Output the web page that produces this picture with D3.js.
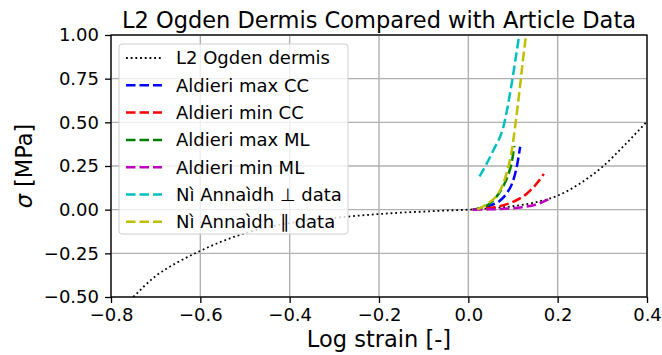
<!DOCTYPE html>
<html><head><meta charset="utf-8">
<script src="https://cdn.jsdelivr.net/npm/d3@7"></script>
<style>body{margin:0;background:#fff}svg{font-family:"DejaVu Sans",sans-serif}</style>
</head><body><svg id="c" width="662" height="355"></svg>
<script>
const xTicks = [-0.8,-0.6,-0.4,-0.2,0.0,0.2,0.4];
const yTicks = [-0.5,-0.25,0,0.25,0.5,0.75,1.0];
const ogdenX = [-0.75,-0.70,-0.65,-0.60,-0.55,-0.50,-0.45,-0.40,-0.35,-0.30,-0.25,-0.20,-0.15,-0.10,-0.05,0.00,0.05,0.10,0.15,0.20,0.25,0.30,0.35,0.40];
const ogdenY = [-0.50,-0.38,-0.30,-0.236,-0.18,-0.135,-0.10,-0.077,-0.06,-0.047,-0.035,-0.025,-0.017,-0.011,-0.005,0.0,0.008,0.02,0.042,0.08,0.15,0.245,0.37,0.505];
const maxCCX = [0.01,0.03,0.05,0.07,0.085,0.098,0.108,0.116];
const maxCCY = [0,0.008,0.025,0.05,0.09,0.15,0.24,0.36];
const minCCX = [0.01,0.04,0.07,0.10,0.13,0.15,0.169];
const minCCY = [0,0.008,0.02,0.045,0.09,0.14,0.205];
const maxMLX = [0.01,0.03,0.045,0.06,0.075,0.088,0.097,0.103];
const maxMLY = [0,0.012,0.03,0.065,0.12,0.19,0.27,0.365];
const minMLX = [0.01,0.05,0.09,0.12,0.15,0.18];
const minMLY = [0,0.002,0.006,0.014,0.028,0.06];
const perpX = [0.025,0.055,0.08,0.095,0.105,0.115];
const perpY = [0.19,0.335,0.49,0.69,0.85,1.02];
const parX = [0.02,0.04,0.06,0.075,0.088,0.098,0.106,0.115,0.122,0.13];
const parY = [0,0.03,0.07,0.13,0.23,0.35,0.5,0.69,0.85,1.02];
const labels = ["L2 Ogden dermis","Aldieri max CC","Aldieri min CC","Aldieri max ML","Aldieri min ML","Nì Annaìdh ⊥ data","Nì Annaìdh ∥ data"];
const colors = ["#000000","#0000ff","#ff0000","#008000","#bf00bf","#00bfbf","#bfbf00"];

const series = [[ogdenX,ogdenY],[maxCCX,maxCCY],[minCCX,minCCY],[maxMLX,maxMLY],[minMLX,minMLY],[perpX,perpY],[parX,parY]];

const L=111,R=647,T=35,B=297;
const svg=d3.select("#c");
const x=d3.scaleLinear().domain([-0.8,0.4]).range([L,R]);
const y=d3.scaleLinear().domain([-0.5,1.0]).range([B,T]);
const minus=s=>s.replace("-","\u2212");
const sw=i=>i==0?1.8:2.5, sd=i=>i==0?"1.8,2.9":"9.5,4";

// grid
svg.append("g").selectAll("line").data(xTicks).join("line")
 .attr("x1",d=>x(d)).attr("x2",d=>x(d)).attr("y1",T).attr("y2",B)
 .attr("stroke","#b0b0b0").attr("stroke-width",1.4);
svg.append("g").selectAll("line").data(yTicks).join("line")
 .attr("y1",d=>y(d)).attr("y2",d=>y(d)).attr("x1",L).attr("x2",R)
 .attr("stroke","#b0b0b0").attr("stroke-width",1.4);

svg.append("clipPath").attr("id","clip").append("rect").attr("x",L).attr("y",T).attr("width",R-L).attr("height",B-T);

const line=d3.line().x(d=>x(d[0])).y(d=>y(d[1])).curve(d3.curveMonotoneX);
const g=svg.append("g").attr("clip-path","url(#clip)");
series.forEach((s,i)=>{
  const pts=s[0].map((v,j)=>[v,s[1][j]]);
  g.append("path").attr("d",line(pts)).attr("fill","none")
   .attr("stroke",colors[i]).attr("stroke-width",sw(i)).attr("stroke-dasharray",sd(i));
});

// axes
const xa=svg.append("g").attr("transform",`translate(0,${B})`)
 .call(d3.axisBottom(x).tickValues(xTicks).tickFormat(d=>minus(d3.format(".1f")(d))).tickSize(6).tickPadding(5).tickSizeOuter(0));
const ya=svg.append("g").attr("transform",`translate(${L},0)`)
 .call(d3.axisLeft(y).tickValues(yTicks).tickFormat(d=>minus(d3.format(".2f")(d))).tickSize(6).tickPadding(6).tickSizeOuter(0));
[xa,ya].forEach(a=>{a.selectAll("text").attr("font-size",18).attr("font-family","DejaVu Sans").attr("fill","#000");
 a.selectAll("line").attr("stroke","#000").attr("stroke-width",1.3);a.select(".domain").remove();});
xa.selectAll("text").attr("dy","0.72em");
svg.append("rect").attr("x",L).attr("y",T).attr("width",R-L).attr("height",B-T).attr("fill","none").attr("stroke","#000").attr("stroke-width",1.3);

// titles
svg.append("text").attr("x",(L+R)/2).attr("y",28).attr("text-anchor","middle").attr("font-size",22.5).text("L2 Ogden Dermis Compared with Article Data");
svg.append("text").attr("x",(L+R)/2).attr("y",347).attr("text-anchor","middle").attr("font-size",22.5).text("Log strain [-]");
svg.append("text").attr("transform",`translate(32,${(T+B)/2}) rotate(-90)`).attr("text-anchor","middle").attr("font-size",22.5)
 .html('<tspan font-style="italic">σ</tspan> [MPa]');

// legend
const lg=svg.append("g");
lg.append("rect").attr("x",119).attr("y",44).attr("width",229).attr("height",190).attr("rx",3)
 .attr("fill","#fff").attr("fill-opacity",0.8).attr("stroke","#d0d0d0");
labels.forEach((t,i)=>{
  const yy=58+i*27.3;
  lg.append("line").attr("x1",126).attr("x2",162).attr("y1",yy).attr("y2",yy).attr("stroke",colors[i])
   .attr("stroke-width",sw(i)).attr("stroke-dasharray",sd(i));
  lg.append("text").attr("x",176).attr("y",yy).attr("dy","0.36em").attr("font-size",18).text(t);
});
</script></body></html>
